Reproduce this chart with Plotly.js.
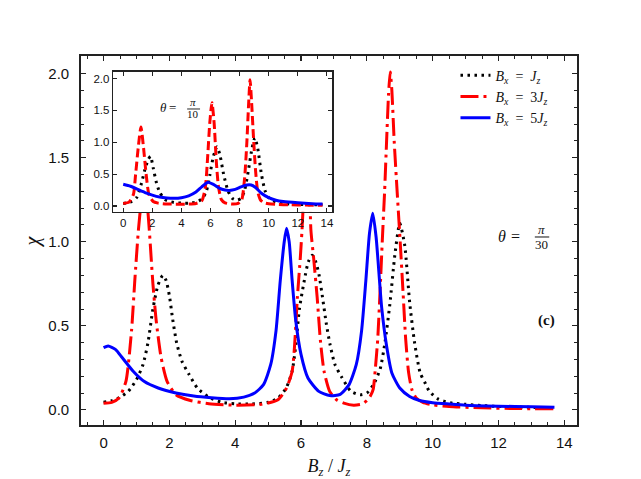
<!DOCTYPE html>
<html>
<head>
<meta charset="utf-8">
<script src="https://cdn.plot.ly/plotly-3.0.1.min.js"></script>
<style>html,body{margin:0;padding:0;background:#fff;}#chart{width:641px;height:479px;}</style>
</head>
<body>
<div id="chart"></div>
<script>
// ---- Main panel (theta = pi/30) ----
const mainBx1X = [0, 0.25, 0.5, 0.75, 1.0, 1.2, 1.35, 1.5, 1.65, 1.8, 1.9, 2.0, 2.1, 2.22, 2.38, 2.6, 2.85, 3.2, 3.6, 4.0, 4.5, 5.0, 5.3, 5.55, 5.73, 5.85, 5.95, 6.1, 6.22, 6.34, 6.45, 6.55, 6.66, 6.77, 6.88, 7.03, 7.25, 7.52, 7.8, 8.0, 8.2, 8.4, 8.55, 8.7, 8.85, 9.0, 9.15, 9.3, 9.45, 9.62, 9.77, 9.9, 10.17, 10.4, 10.6, 11.0, 11.5, 12.0, 13.0, 13.7];
const mainBx1Y = [0.045, 0.055, 0.075, 0.11, 0.18, 0.27, 0.40, 0.60, 0.74, 0.80, 0.77, 0.68, 0.54, 0.40, 0.29, 0.21, 0.13, 0.075, 0.045, 0.036, 0.035, 0.045, 0.07, 0.13, 0.23, 0.40, 0.60, 0.77, 0.88, 0.92, 0.88, 0.80, 0.66, 0.51, 0.39, 0.27, 0.19, 0.11, 0.09, 0.10, 0.15, 0.24, 0.40, 0.63, 0.92, 1.11, 0.98, 0.64, 0.40, 0.22, 0.16, 0.11, 0.064, 0.048, 0.04, 0.033, 0.026, 0.02, 0.015, 0.012];

const mainBx3X = [0, 0.25, 0.47, 0.68, 0.85, 0.95, 1.06, 1.15, 1.23, 1.31, 1.39, 1.5, 1.6, 1.75, 1.93, 2.2, 2.64, 3.2, 4.0, 4.8, 5.3, 5.56, 5.73, 5.8, 5.89, 5.98, 6.03, 6.1, 6.17, 6.24, 6.3, 6.38, 6.49, 6.59, 6.7, 6.87, 7.08, 7.3, 7.6, 7.85, 8.0, 8.1, 8.19, 8.26, 8.33, 8.4, 8.47, 8.54, 8.6, 8.66, 8.71, 8.76, 8.83, 8.92, 9.01, 9.1, 9.18, 9.27, 9.37, 9.5, 9.7, 10.0, 10.5, 11.5, 12.5, 13.7];
const mainBx3Y = [0.04, 0.045, 0.07, 0.17, 0.47, 0.77, 1.07, 1.24, 1.30, 1.25, 1.07, 0.75, 0.53, 0.31, 0.17, 0.09, 0.056, 0.037, 0.028, 0.033, 0.06, 0.13, 0.23, 0.37, 0.67, 0.91, 1.07, 1.35, 1.55, 1.45, 1.07, 0.91, 0.67, 0.41, 0.23, 0.11, 0.06, 0.04, 0.028, 0.035, 0.055, 0.08, 0.12, 0.25, 0.42, 0.70, 1.01, 1.30, 1.60, 1.88, 2.01, 1.90, 1.60, 1.30, 1.01, 0.70, 0.42, 0.22, 0.12, 0.07, 0.045, 0.03, 0.02, 0.012, 0.008, 0.006];

const mainBx5X = [0, 0.14, 0.36, 0.57, 0.9, 1.23, 1.66, 2.2, 2.74, 3.28, 3.82, 4.26, 4.59, 4.86, 5.08, 5.24, 5.37, 5.49, 5.56, 5.64, 5.73, 5.84, 6.0, 6.21, 6.54, 6.87, 7.19, 7.46, 7.68, 7.84, 7.97, 8.08, 8.18, 8.28, 8.45, 8.6, 8.76, 9.0, 9.3, 9.6, 10.0, 10.5, 11.0, 12.0, 13.0, 13.7];
const mainBx5Y = [0.37, 0.38, 0.36, 0.31, 0.23, 0.17, 0.13, 0.10, 0.082, 0.072, 0.066, 0.076, 0.10, 0.15, 0.27, 0.47, 0.77, 1.00, 1.08, 1.00, 0.77, 0.53, 0.33, 0.19, 0.11, 0.085, 0.092, 0.15, 0.27, 0.47, 0.77, 1.05, 1.17, 1.03, 0.61, 0.38, 0.22, 0.13, 0.08, 0.056, 0.043, 0.035, 0.028, 0.022, 0.018, 0.016];

// ---- Inset (theta = pi/10) ----
const insBx1X = [0, 0.5, 0.92, 1.26, 1.49, 1.72, 1.88, 2.06, 2.29, 2.52, 2.87, 3.5, 4.0, 4.5, 5.0, 5.4, 5.7, 5.95, 6.2, 6.45, 6.65, 6.9, 7.2, 7.5, 7.8, 8.1, 8.35, 8.6, 8.85, 9.05, 9.25, 9.5, 9.75, 10.0, 10.5, 11.0, 12.0, 13.0, 13.7];
const insBx1Y = [0.04, 0.06, 0.13, 0.36, 0.57, 0.73, 0.78, 0.6, 0.36, 0.21, 0.10, 0.055, 0.045, 0.045, 0.06, 0.11, 0.22, 0.48, 0.78, 0.93, 0.8, 0.5, 0.24, 0.12, 0.09, 0.12, 0.25, 0.55, 0.9, 1.07, 0.9, 0.5, 0.24, 0.13, 0.06, 0.04, 0.025, 0.02, 0.018];

const insBx3X = [0, 0.4, 0.7, 0.85, 1.03, 1.22, 1.4, 1.58, 1.77, 2.06, 2.4, 3.0, 4.0, 5.0, 5.4, 5.65, 5.8, 5.95, 6.1, 6.25, 6.4, 6.55, 6.75, 7.0, 7.5, 7.9, 8.15, 8.35, 8.5, 8.62, 8.72, 8.82, 8.95, 9.1, 9.25, 9.45, 9.7, 10.0, 10.5, 11.5, 12.5, 13.7];
const insBx3Y = [0.04, 0.06, 0.18, 0.49, 0.91, 1.24, 0.91, 0.49, 0.18, 0.07, 0.045, 0.032, 0.028, 0.04, 0.08, 0.3, 0.75, 1.3, 1.62, 1.3, 0.7, 0.3, 0.1, 0.05, 0.03, 0.04, 0.1, 0.45, 1.0, 1.6, 1.98, 1.65, 1.1, 0.55, 0.22, 0.09, 0.05, 0.035, 0.025, 0.018, 0.014, 0.012];

const insBx5X = [0, 0.5, 1.0, 1.5, 2.0, 2.5, 3.0, 3.5, 4.0, 4.5, 5.0, 5.4, 5.8, 6.2, 6.6, 7.0, 7.3, 7.7, 8.1, 8.5, 8.8, 9.1, 9.5, 10.0, 10.5, 11.0, 12.0, 13.0, 13.7];
const insBx5Y = [0.34, 0.31, 0.26, 0.21, 0.17, 0.14, 0.125, 0.12, 0.13, 0.16, 0.22, 0.3, 0.37, 0.34, 0.28, 0.25, 0.245, 0.26, 0.3, 0.33, 0.33, 0.29, 0.2, 0.13, 0.09, 0.07, 0.05, 0.035, 0.03];

const seriesNames = [
  '<i>B</i><sub><i>x</i></sub>  =  <i>J</i><sub><i>z</i></sub>',
  '<i>B</i><sub><i>x</i></sub>  =  3<i>J</i><sub><i>z</i></sub>',
  '<i>B</i><sub><i>x</i></sub>  =  5<i>J</i><sub><i>z</i></sub>'
];
const xTitle = '<i>B</i><sub><i>z</i></sub> / <i>J</i><sub><i>z</i></sub>';
const yTitle = '<i>χ</i>';

const serif = 'Liberation Serif, Times New Roman, serif';
const sans = 'Liberation Sans, Arial, sans-serif';

const traces = [
  {x: mainBx1X, y: mainBx1Y, name: seriesNames[0], mode: 'lines', line: {color: '#000', width: 3, dash: '2.5px,4.5px', shape: 'spline', smoothing: 0.6}, xaxis: 'x', yaxis: 'y'},
  {x: mainBx3X, y: mainBx3Y, name: seriesNames[1], mode: 'lines', line: {color: '#ff0000', width: 3, dash: '18px,5px,3px,5px', shape: 'spline', smoothing: 0.6}, xaxis: 'x', yaxis: 'y'},
  {x: mainBx5X, y: mainBx5Y, name: seriesNames[2], mode: 'lines', line: {color: '#0000ff', width: 3, shape: 'spline', smoothing: 0.6}, xaxis: 'x', yaxis: 'y'},
  {x: insBx1X, y: insBx1Y, showlegend: false, mode: 'lines', line: {color: '#000', width: 3, dash: '2.5px,4.5px', shape: 'spline', smoothing: 0.6}, xaxis: 'x2', yaxis: 'y2'},
  {x: insBx3X, y: insBx3Y, showlegend: false, mode: 'lines', line: {color: '#ff0000', width: 3, dash: '9px,4px', shape: 'spline', smoothing: 0.6}, xaxis: 'x2', yaxis: 'y2'},
  {x: insBx5X, y: insBx5Y, showlegend: false, mode: 'lines', line: {color: '#0000ff', width: 3, shape: 'spline', smoothing: 0.6}, xaxis: 'x2', yaxis: 'y2'}
];

const axCommon = {
  showgrid: false, zeroline: false, showline: true, linecolor: '#222', mirror: 'allticks',
  ticks: 'inside', tickcolor: '#222'
};

function note(x, y, text, size, extra) {
  return Object.assign({xref: 'paper', yref: 'paper', x: x, y: y, text: text, showarrow: false,
    xanchor: 'center', yanchor: 'middle', font: {family: serif, size: size, color: '#111'}}, extra || {});
}

const layout = {
  width: 641, height: 479,
  margin: {l: 81, r: 64, t: 56, b: 54},
  paper_bgcolor: '#fff', plot_bgcolor: '#fff',
  showlegend: true,
  legend: {x: 0.755, y: 0.99, xanchor: 'left', yanchor: 'top', bgcolor: 'rgba(0,0,0,0)',
           font: {family: serif, size: 14, color: '#111'}, tracegroupgap: 0, itemwidth: 30},
  xaxis: Object.assign({}, axCommon, {
    domain: [0, 1], anchor: 'y', range: [-0.685, 14.385], tick0: 0, dtick: 2,
    ticklen: 5, tickwidth: 1.2, linewidth: 1.8, ticklabelstandoff: 3,
    minor: {dtick: 0.5, ticks: 'inside', ticklen: 3, tickwidth: 1, tickcolor: '#222'},
    tickfont: {family: sans, size: 15, color: '#111'},
    title: {text: xTitle, font: {family: serif, size: 18, color: '#111'}, standoff: 10}
  }),
  yaxis: Object.assign({}, axCommon, {
    domain: [0, 1], anchor: 'x', range: [-0.09, 2.105], tick0: 0, dtick: 0.5, tickformat: '.1f',
    ticklen: 5, tickwidth: 1.2, linewidth: 1.8, ticklabelstandoff: 7,
    minor: {dtick: 0.1, ticks: 'inside', ticklen: 3, tickwidth: 1, tickcolor: '#222'},
    tickfont: {family: sans, size: 15, color: '#111'}
  }),
  xaxis2: Object.assign({}, axCommon, {
    domain: [0.065, 0.507], anchor: 'y2', range: [-0.685, 14.385], tick0: 0, dtick: 2,
    ticklen: 4, tickwidth: 1.1, linewidth: 1.5,
    tickfont: {family: sans, size: 11.5, color: '#111'}
  }),
  yaxis2: Object.assign({}, axCommon, {
    domain: [0.578, 0.957], anchor: 'x2', range: [-0.09, 2.105], tick0: 0, dtick: 0.5, tickformat: '.1f',
    ticklen: 4, tickwidth: 1.1, linewidth: 1.5,
    tickfont: {family: sans, size: 11.5, color: '#111'}
  }),
  annotations: [
    note(-0.097, 0.497, yTitle, 20, {textangle: -90}),
    note(0.848, 0.512, '<i>θ</i>', 16),
    note(0.877, 0.512, '=', 16),
    note(0.929, 0.530, '<i>π</i>', 13),
    note(0.929, 0.489, '30', 13),
    note(0.939, 0.282, '<b>(c)</b>', 15),
    note(0.166, 0.861, '<i>θ</i>', 13),
    note(0.185, 0.861, '=', 13),
    note(0.226, 0.875, '<i>π</i>', 11),
    note(0.226, 0.843, '10', 11)
  ],
  shapes: [
    {type: 'line', xref: 'paper', yref: 'paper', x0: 0.915, x1: 0.944, y0: 0.5095, y1: 0.5095, line: {color: '#111', width: 1}},
    {type: 'line', xref: 'paper', yref: 'paper', x0: 0.214, x1: 0.240, y0: 0.8564, y1: 0.8564, line: {color: '#111', width: 0.9}}
  ]
};

Plotly.newPlot('chart', traces, layout, {staticPlot: true, displayModeBar: false});
</script>
</body>
</html>
